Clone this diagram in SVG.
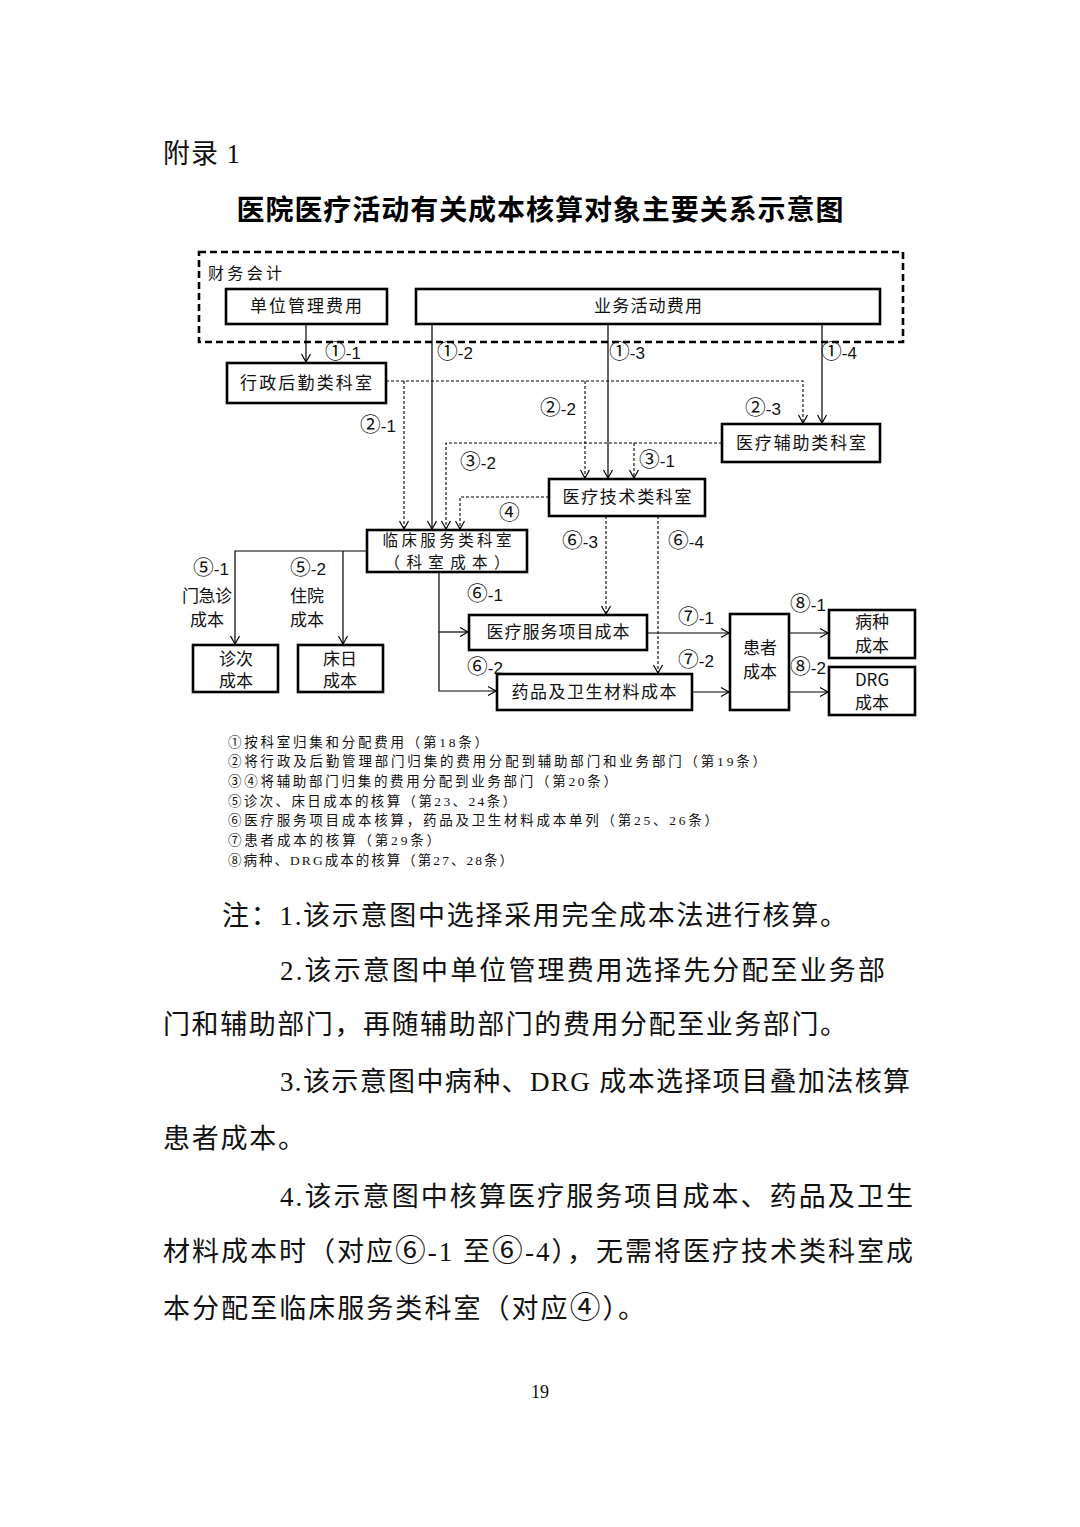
<svg xmlns="http://www.w3.org/2000/svg" width="1080" height="1527" viewBox="0 0 1080 1527">
<style>
.bg{fill:#fff}
.box{fill:#fff;stroke:#000;stroke-width:2.6}
.frame{fill:none;stroke:#000;stroke-width:2.6;stroke-dasharray:7,4}
.ln{fill:none;stroke:#000;stroke-width:1.2}
.dl{fill:none;stroke:#000;stroke-width:1.1;stroke-dasharray:3,2}
.t{font-family:"Liberation Sans","Noto Sans CJK SC",sans-serif;font-size:16px;fill:#111}
.bt{font-family:"Noto Sans CJK SC",sans-serif;font-size:17px;fill:#111;text-anchor:middle}
.lb{font-family:"Liberation Sans","Noto Sans CJK SC",sans-serif;font-size:17px;fill:#111}
.lg{font-family:"Liberation Serif","Noto Sans CJK SC",serif;font-size:13.5px;fill:#111}
.nt{font-family:"Liberation Serif","Noto Sans CJK SC",serif;font-size:27px;fill:#111}
.c{font-family:"Noto Sans CJK SC",sans-serif;font-size:122%}
.cl{font-family:"Noto Sans CJK SC",sans-serif}
.cn{font-family:"Noto Sans CJK SC",sans-serif;font-size:114%}
.ttl{font-family:"Noto Sans CJK SC",sans-serif;font-size:28px;font-weight:bold;fill:#000;text-anchor:middle}
</style>
<defs>
<marker id="ar" markerUnits="userSpaceOnUse" markerWidth="12" markerHeight="12" refX="9" refY="5" orient="auto">
<path d="M1,0.5 L9,5 L1,9.5" fill="none" stroke="#000" stroke-width="1.2" stroke-dasharray="none"/>
</marker>
</defs>
<rect class="bg" x="0" y="0" width="1080" height="1527"/>

<text class="nt" x="163" y="163" textLength="77" lengthAdjust="spacing">附录 1</text>
<text class="ttl" x="540" y="220" textLength="607" lengthAdjust="spacing">医院医疗活动有关成本核算对象主要关系示意图</text>

<g id="finance-frame">
<rect class="frame" x="199" y="252" width="704" height="90"/>
<text class="t" x="208" y="279" textLength="74" lengthAdjust="spacing">财务会计</text>
</g>

<g id="connectors">
<path class="ln" d="M306,324 V362" marker-end="url(#ar)"/>
<path class="ln" d="M432,324 V529" marker-end="url(#ar)"/>
<path class="ln" d="M608,324 V478" marker-end="url(#ar)"/>
<path class="ln" d="M822,324 V423" marker-end="url(#ar)"/>
<path class="dl" d="M386,381 H803 V423" marker-end="url(#ar)"/>
<path class="dl" d="M404,381 V529" marker-end="url(#ar)"/>
<path class="dl" d="M585,381 V478" marker-end="url(#ar)"/>
<path class="dl" d="M722,443 H446 V529" marker-end="url(#ar)"/>
<path class="dl" d="M634,443 V478" marker-end="url(#ar)"/>
<path class="dl" d="M549,497 H460 V529" marker-end="url(#ar)"/>
<path class="ln" d="M367,551 H235 V644" marker-end="url(#ar)"/>
<path class="ln" d="M343,551 V644" marker-end="url(#ar)"/>
<path class="ln" d="M439,572 V691 H496" marker-end="url(#ar)"/>
<path class="ln" d="M439,632 H468" marker-end="url(#ar)"/>
<path class="dl" d="M606,516 V614" marker-end="url(#ar)"/>
<path class="dl" d="M658,516 V673" marker-end="url(#ar)"/>
<path class="ln" d="M647,633 H729" marker-end="url(#ar)"/>
<path class="ln" d="M692,692 H729" marker-end="url(#ar)"/>
<path class="ln" d="M789,633 H828" marker-end="url(#ar)"/>
<path class="ln" d="M789,692 H828" marker-end="url(#ar)"/>
</g>

<g id="edge-labels">
<text class="lb" x="325" y="359"><tspan class="c">①</tspan>-1</text>
<text class="lb" x="437" y="359"><tspan class="c">①</tspan>-2</text>
<text class="lb" x="609" y="359"><tspan class="c">①</tspan>-3</text>
<text class="lb" x="821" y="359"><tspan class="c">①</tspan>-4</text>
<text class="lb" x="360" y="432"><tspan class="c">②</tspan>-1</text>
<text class="lb" x="540" y="415"><tspan class="c">②</tspan>-2</text>
<text class="lb" x="745" y="415"><tspan class="c">②</tspan>-3</text>
<text class="lb" x="460" y="469"><tspan class="c">③</tspan>-2</text>
<text class="lb" x="639" y="467"><tspan class="c">③</tspan>-1</text>
<text class="lb" x="499" y="520"><tspan class="c">④</tspan></text>
<text class="lb" x="193" y="575"><tspan class="c">⑤</tspan>-1</text>
<text class="lb" x="290" y="575"><tspan class="c">⑤</tspan>-2</text>
<text class="bt" x="207" y="602" textLength="50" lengthAdjust="spacing">门急诊</text>
<text class="bt" x="207" y="626">成本</text>
<text class="bt" x="307" y="602">住院</text>
<text class="bt" x="307" y="626">成本</text>
<text class="lb" x="562" y="548"><tspan class="c">⑥</tspan>-3</text>
<text class="lb" x="668" y="548"><tspan class="c">⑥</tspan>-4</text>
<text class="lb" x="467" y="601"><tspan class="c">⑥</tspan>-1</text>
<text class="lb" x="467" y="674"><tspan class="c">⑥</tspan>-2</text>
<text class="lb" x="678" y="624"><tspan class="c">⑦</tspan>-1</text>
<text class="lb" x="678" y="667"><tspan class="c">⑦</tspan>-2</text>
<text class="lb" x="790" y="611"><tspan class="c">⑧</tspan>-1</text>
<text class="lb" x="790" y="674"><tspan class="c">⑧</tspan>-2</text>
</g>

<g id="n-unit-admin">
<rect class="box" x="226" y="289" width="161" height="35"/>
<text class="bt" x="306" y="312" textLength="112" lengthAdjust="spacing">单位管理费用</text>
</g>
<g id="n-business">
<rect class="box" x="416" y="289" width="464" height="35"/>
<text class="bt" x="648" y="312" textLength="108" lengthAdjust="spacing">业务活动费用</text>
</g>
<g id="n-admin-dept">
<rect class="box" x="227" y="363" width="159" height="40"/>
<text class="bt" x="306" y="389" textLength="132" lengthAdjust="spacing">行政后勤类科室</text>
</g>
<g id="n-aux-dept">
<rect class="box" x="722" y="424" width="158" height="38"/>
<text class="bt" x="801" y="449" textLength="130" lengthAdjust="spacing">医疗辅助类科室</text>
</g>
<g id="n-tech-dept">
<rect class="box" x="549" y="479" width="156" height="37"/>
<text class="bt" x="627" y="503" textLength="129" lengthAdjust="spacing">医疗技术类科室</text>
</g>
<g id="n-clinical-dept">
<rect class="box" x="367" y="530" width="160" height="42"/>
<text class="bt" x="447" y="546" style="font-size:15.5px" textLength="129" lengthAdjust="spacing">临床服务类科室</text>
<text class="bt" x="447" y="568" style="font-size:15.5px" textLength="125" lengthAdjust="spacing">（科室成本）</text>
</g>
<g id="n-visit-cost">
<rect class="box" x="193" y="645" width="85" height="47"/>
<text class="bt" x="236" y="665">诊次</text>
<text class="bt" x="236" y="687">成本</text>
</g>
<g id="n-bed-cost">
<rect class="box" x="298" y="645" width="85" height="47"/>
<text class="bt" x="340" y="665">床日</text>
<text class="bt" x="340" y="687">成本</text>
</g>
<g id="n-service-item">
<rect class="box" x="469" y="615" width="178" height="35"/>
<text class="bt" x="558" y="638" textLength="143" lengthAdjust="spacing">医疗服务项目成本</text>
</g>
<g id="n-drug-material">
<rect class="box" x="497" y="674" width="195" height="36"/>
<text class="bt" x="594" y="698" textLength="165" lengthAdjust="spacing">药品及卫生材料成本</text>
</g>
<g id="n-patient">
<rect class="box" x="730" y="614" width="59" height="96"/>
<text class="bt" x="760" y="654">患者</text>
<text class="bt" x="760" y="678">成本</text>
</g>
<g id="n-disease">
<rect class="box" x="829" y="610" width="86" height="48"/>
<text class="bt" x="872" y="628">病种</text>
<text class="bt" x="872" y="652">成本</text>
</g>
<g id="n-drg">
<rect class="box" x="829" y="667" width="86" height="48"/>
<text class="bt" x="872" y="686" font-family="Liberation Sans,sans-serif">DRG</text>
<text class="bt" x="872" y="709">成本</text>
</g>

<g id="legend">
<text class="lg" x="228" y="746.5" textLength="260" lengthAdjust="spacing"><tspan class="cl">①</tspan>按科室归集和分配费用（第18条）</text>
<text class="lg" x="228" y="766.2" textLength="538" lengthAdjust="spacing"><tspan class="cl">②</tspan>将行政及后勤管理部门归集的费用分配到辅助部门和业务部门（第19条）</text>
<text class="lg" x="228" y="785.9" textLength="389" lengthAdjust="spacing"><tspan class="cl">③④</tspan>将辅助部门归集的费用分配到业务部门（第20条）</text>
<text class="lg" x="228" y="805.6" textLength="288" lengthAdjust="spacing"><tspan class="cl">⑤</tspan>诊次、床日成本的核算（第23、24条）</text>
<text class="lg" x="228" y="825.3" textLength="490" lengthAdjust="spacing"><tspan class="cl">⑥</tspan>医疗服务项目成本核算，药品及卫生材料成本单列（第25、26条）</text>
<text class="lg" x="228" y="845" textLength="212" lengthAdjust="spacing"><tspan class="cl">⑦</tspan>患者成本的核算（第29条）</text>
<text class="lg" x="228" y="864.7" textLength="285" lengthAdjust="spacing"><tspan class="cl">⑧</tspan>病种、DRG成本的核算（第27、28条）</text>
</g>

<g id="notes">
<text class="nt" x="222" y="925" textLength="625" lengthAdjust="spacing">注：1.该示意图中选择采用完全成本法进行核算。</text>
<text class="nt" x="280" y="980" textLength="605" lengthAdjust="spacing">2.该示意图中单位管理费用选择先分配至业务部</text>
<text class="nt" x="163" y="1034" textLength="684" lengthAdjust="spacing">门和辅助部门，再随辅助部门的费用分配至业务部门。</text>
<text class="nt" x="280" y="1091" textLength="630" lengthAdjust="spacing">3.该示意图中病种、DRG 成本选择项目叠加法核算</text>
<text class="nt" x="163" y="1148" textLength="142" lengthAdjust="spacing">患者成本。</text>
<text class="nt" x="280" y="1206" textLength="633" lengthAdjust="spacing">4.该示意图中核算医疗服务项目成本、药品及卫生</text>
<text class="nt" x="163" y="1261" textLength="750" lengthAdjust="spacing">材料成本时（对应<tspan class="cn">⑥</tspan>-1 至<tspan class="cn">⑥</tspan>-4），无需将医疗技术类科室成</text>
<text class="nt" x="163" y="1318" textLength="482" lengthAdjust="spacing">本分配至临床服务类科室（对应<tspan class="cn">④</tspan>）。</text>
<text class="nt" x="540" y="1398" text-anchor="middle" style="font-size:18px">19</text>
</g>
</svg>
